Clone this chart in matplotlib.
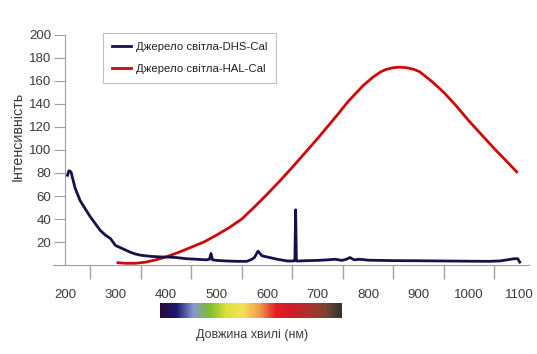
import matplotlib
matplotlib.use("Agg")
import matplotlib.pyplot as plt
from matplotlib.colors import LinearSegmentedColormap
import numpy as np

# data
wl_dhs = [205, 208, 212, 220, 230, 240, 250, 260, 270, 280, 290, 295, 300, 310,
          320, 330, 340, 350, 370, 390, 400, 420, 440, 460, 480, 486, 489, 492,
          500, 520, 540, 560, 570, 575, 582, 590, 600, 610, 620, 640, 652, 655,
          656.5, 658, 662, 680, 700, 720, 735, 748, 757, 764, 772, 783, 800, 850,
          900, 950, 1000, 1040, 1060, 1075, 1090, 1096, 1100]
int_dhs = [78, 82, 81, 67, 56, 49, 42, 36, 30, 26, 23, 20, 17, 15,
           13, 11, 9.5, 8.5, 7.5, 7, 7, 6.5, 5.5, 5, 4.5, 5, 10, 4.5,
           4, 3.5, 3.2, 3.2, 5, 6.5, 12, 8, 7, 6, 5, 3.5, 3.5, 4,
           48, 3.5, 3.5, 3.8, 4, 4.5, 5, 4, 5, 6.5, 4.5, 5, 4.2, 3.8,
           3.7, 3.5, 3.3, 3.2, 3.5, 4.5, 5.5, 5.5, 2.5]

wl_hal = [305, 320, 340, 360, 380, 400, 425, 450, 475, 500, 525, 550, 575, 600,
          625, 650, 675, 700, 720, 740, 760, 790, 810, 825, 835, 850, 862, 875,
          890, 902, 925, 950, 975, 1000, 1025, 1050, 1070, 1094]
int_hal = [2, 1.5, 1.5, 2.5, 4.5, 7, 11, 15.5, 20, 26, 32.5, 40, 50.5, 61.5,
           73, 85, 97.5, 110, 120.5, 131, 142, 156, 163.5, 168, 170, 171.6, 172, 171.6,
           170.2, 168, 160, 150, 138, 125, 113, 101, 92, 81]

label_dhs = "Джерело світла-DHS-Cal"
label_hal = "Джерело світла-HAL-Cal"
y_ticks = [20, 40, 60, 80, 100, 120, 140, 160, 180, 200]
x_labels = [200, 300, 400, 500, 600, 700, 800, 900, 1000, 1100]
x_minor = [250, 300, 350, 400, 450, 500, 550, 600, 650, 700, 750, 800, 850,
           900, 950, 1000, 1050, 1100]
spectrum = ["#2a0a3e", "#1b1a6a", "#8a96d4", "#7cbf2a", "#dfe03a", "#f4e35a",
            "#f0a04a", "#e0202a", "#d01c28", "#b0302e", "#7a4530", "#333330"]

NAVY = "#15124a"
RED = "#cc0a0a"
TXT = "#3a3a3a"
GRAY = "#a0a0a0"
FONT = "Liberation Sans"

fig = plt.figure(figsize=(5.37, 3.54), dpi=100)
ax = fig.add_axes([0.0927, 0.2514, 0.894, 0.666])

ax.plot(wl_hal, int_hal, color=RED, lw=2.0, label=label_hal, zorder=2)
ax.plot(wl_dhs, int_dhs, color=NAVY, lw=2.0, label=label_dhs, zorder=3)

ax.set_xlim(170, 1120)
ax.set_ylim(0, 205)

for s in ["top", "right"]:
    ax.spines[s].set_visible(False)
ax.spines["left"].set_position(("data", 200))
ax.spines["left"].set_bounds(0, 200)
ax.spines["bottom"].set_bounds(176, 1118)
ax.spines["left"].set_color(GRAY)
ax.spines["bottom"].set_color(GRAY)

ax.set_yticks(y_ticks)
ax.tick_params(axis="y", length=8, color=GRAY, labelcolor=TXT, labelsize=9.5, pad=2)
ax.set_xticks(x_labels)
ax.set_xticks(x_minor, minor=True)
ax.tick_params(axis="x", which="major", length=0, pad=17, labelcolor=TXT, labelsize=9.5)
ax.tick_params(axis="x", which="minor", length=10, color=GRAY, width=1)
for lab in ax.get_xticklabels() + ax.get_yticklabels():
    lab.set_family(FONT)

fig.text(18 / 537, 1 - 136 / 354, "Інтенсивність", rotation=90, ha="center", va="center",
         fontsize=10.3, color=TXT, family=FONT)

leg = ax.legend(handles=ax.get_lines()[::-1], loc="upper left",
                bbox_to_anchor=(103 / 537, 1 - 33 / 354), bbox_transform=fig.transFigure,
                borderaxespad=0, fancybox=False, frameon=True, edgecolor="#b0b0b0",
                handlelength=1.7, handletextpad=0.45, labelspacing=1.1, borderpad=0.75,
                prop={"family": FONT, "size": 8.2})
leg.get_frame().set_linewidth(0.8)
for t in leg.get_texts():
    t.set_color("#222222")

# spectrum bar under the axis
cmap = LinearSegmentedColormap.from_list("spec", spectrum)
cax = fig.add_axes([160 / 537, 1 - 318 / 354, 182 / 537, 15 / 354])
cax.imshow(np.linspace(0, 1, 256)[None, :], aspect="auto", cmap=cmap)
cax.axis("off")
fig.text(252 / 537, 1 - 335 / 354, "Довжина хвилі (нм)", ha="center", va="center",
         fontsize=9, color=TXT, family=FONT)

fig.savefig("out.png", dpi=100)
